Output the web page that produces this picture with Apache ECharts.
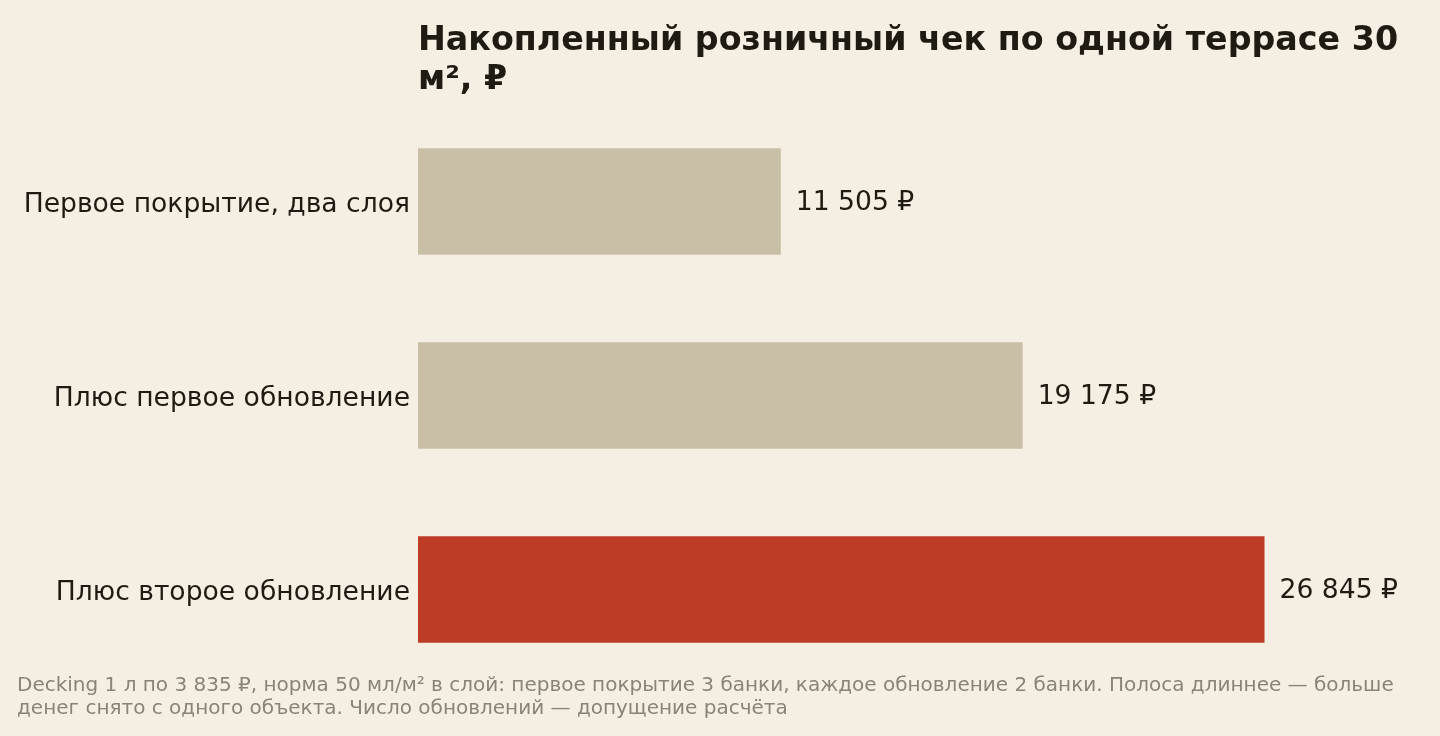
<!DOCTYPE html>
<html>
<head>
<meta charset="utf-8">
<script src="https://cdn.jsdelivr.net/npm/echarts@6/dist/echarts.min.js"></script>
<style>
    html, body { margin: 0; padding: 0; background: #f5efe3; }
    #main { width: 1440px; height: 736px; }
</style>
</head>
<body>
<div id="main"></div>
<script>
// данные графика
var categories = ['Первое покрытие, два слоя', 'Плюс первое обновление', 'Плюс второе обновление'];
var values = [11505, 19175, 26845];
var barColors = ['#c9bfa7', '#c9bfa7', '#bc3c26'];

var titleText = 'Накопленный розничный чек по одной террасе 30\nм², ₽';
var noteText = 'Decking 1 л по 3 835 ₽, норма 50 мл/м² в слой: первое покрытие 3 банки, каждое обновление 2 банки. Полоса длиннее — больше\nденег снято с одного объекта. Число обновлений — допущение расчёта';

var FONT = 'DejaVu Sans';

function fmt(v) {
    return String(v).replace(/\B(?=(\d{3})+(?!\d))/g, ' ') + ' ₽';
}

var myChart = echarts.init(document.getElementById('main'));

var option = {
    backgroundColor: '#f5efe3',
    textStyle: { fontFamily: FONT },
    title: [{
        text: titleText,
        left: 413,
        top: 17,
        textStyle: {
            fontSize: 33.3,
            fontWeight: 'bold',
            color: '#1f1a12',
            lineHeight: 39,
            fontFamily: FONT
        }
    }, {
        text: noteText,
        left: 12,
        top: 669,
        textStyle: {
            fontSize: 20,
            fontWeight: 'normal',
            color: '#8a8377',
            lineHeight: 23,
            fontFamily: FONT
        }
    }],
    grid: {
        left: 418,
        right: 76,
        top: 104.5,
        bottom: 49.5,
        containLabel: false
    },
    xAxis: {
        type: 'value',
        min: 0,
        max: 30000,
        show: false
    },
    yAxis: {
        type: 'category',
        data: categories,
        inverse: true,
        axisLine: { show: false },
        axisTick: { show: false },
        axisLabel: {
            margin: 8,
            formatter: function (v) { return '{c|' + v + '}'; },
            rich: {
                c: {
                    fontSize: 26.6,
                    color: '#1f1a12',
                    fontFamily: FONT,
                    padding: [8, 0, 0, 0]
                }
            }
        }
    },
    series: [{
        type: 'bar',
        barWidth: '55%',
        data: values.map(function (v, i) {
            return { value: v, itemStyle: { color: barColors[i] } };
        }),
        label: {
            show: true,
            position: 'right',
            distance: 15,
            offset: [0, 2],
            fontSize: 26.6,
            color: '#1f1a12',
            fontFamily: FONT,
            formatter: function (p) { return fmt(p.value); }
        }
    }]
};

myChart.setOption(option);
</script>
</body>
</html>
